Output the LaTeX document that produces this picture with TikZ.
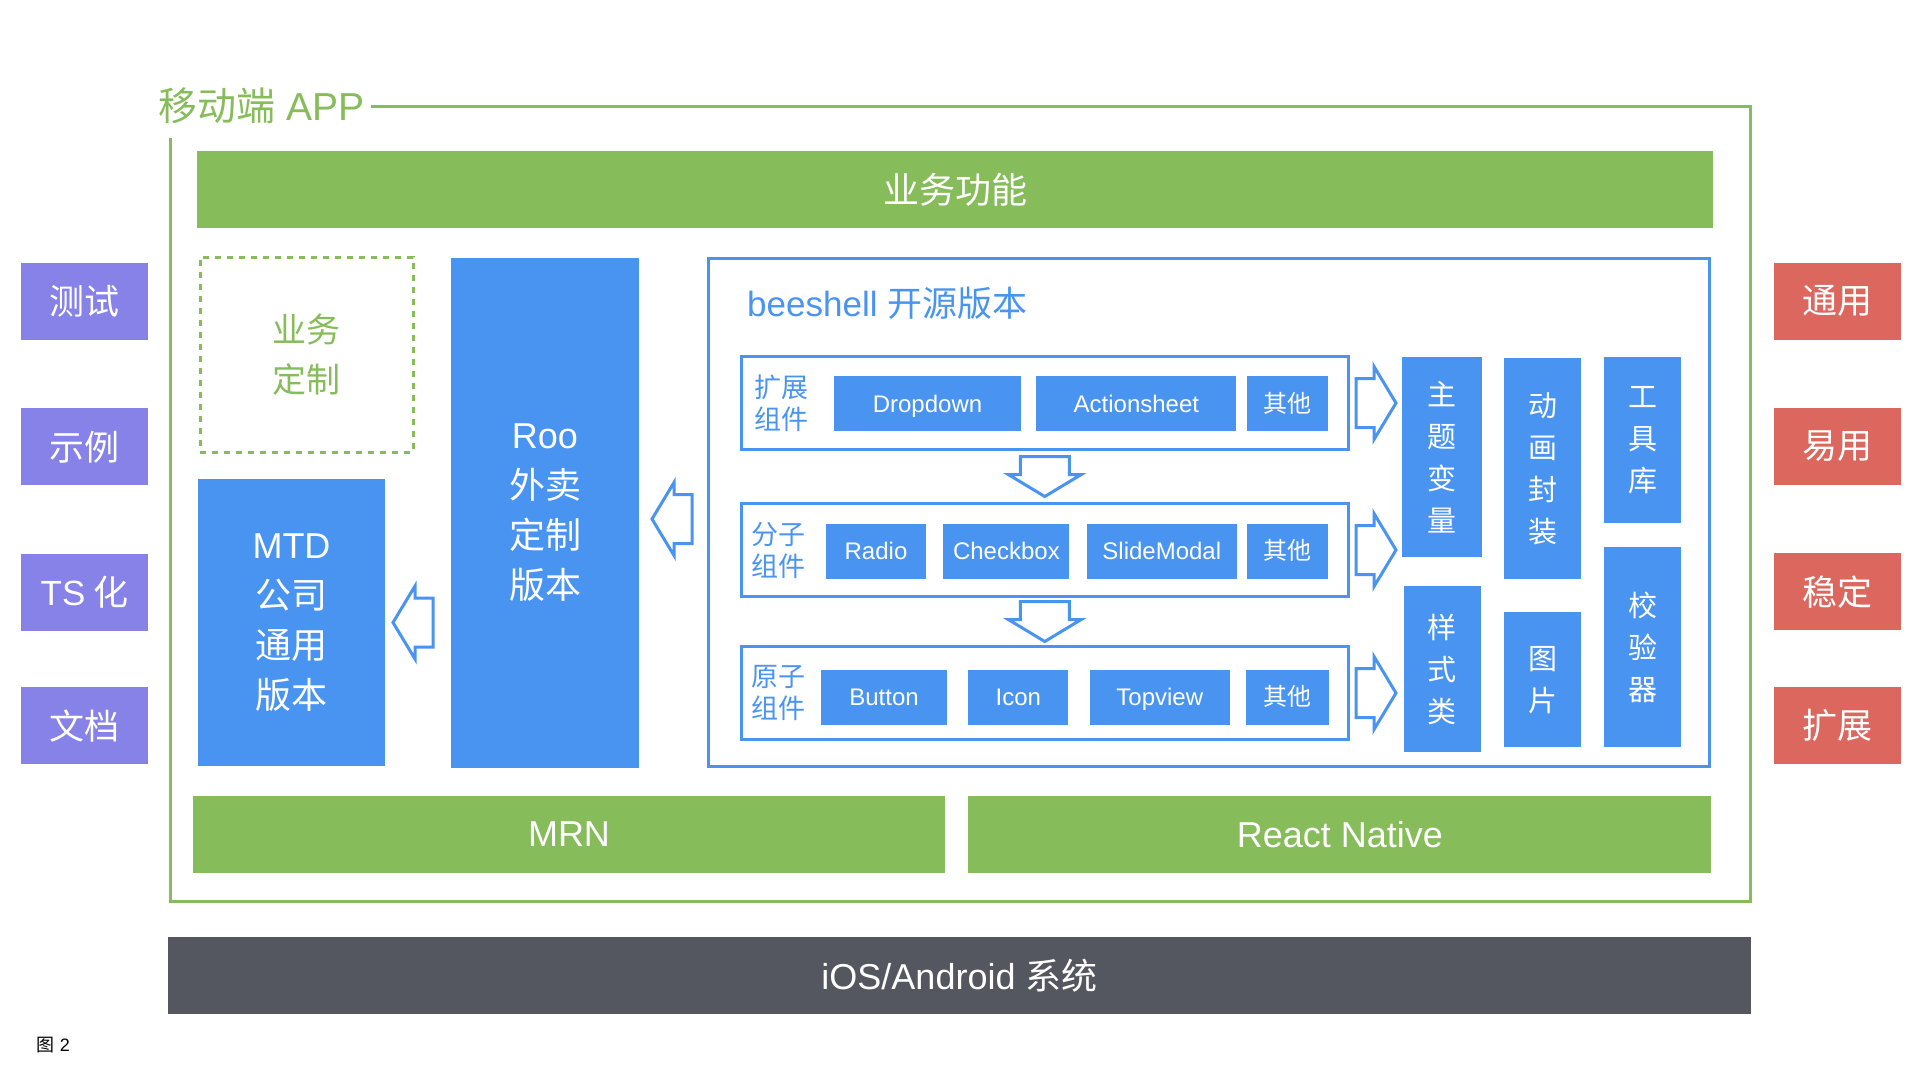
\documentclass[tikz,border=0pt]{standalone}
\usepackage{fontspec}
\setmainfont{Liberation Sans}
\newfontfamily\cjk{Noto Sans CJK SC}
\usepackage{tikz}
\usetikzlibrary{positioning,calc}

\definecolor{appgreen}{HTML}{86BC5A}
\definecolor{appblue}{HTML}{4A94F1}
\definecolor{apppurple}{HTML}{8782E7}
\definecolor{appred}{HTML}{DC675E}
\definecolor{appgray}{HTML}{545760}

\begin{document}
\begin{tikzpicture}[x=1pt, y=-1pt, align=center, inner sep=0pt,
	greenbar/.style={fill=appgreen, text=white, minimum height=77pt, font=\fontsize{36}{44}\selectfont},
	osbar/.style={fill=appgray, text=white, minimum height=77pt, font=\fontsize{36}{44}\selectfont},
	sidebox/.style={text=white, minimum width=127pt, minimum height=77pt, font=\cjk\fontsize{35}{42}\selectfont},
	bluebox/.style={fill=appblue, text=white},
	comp/.style={bluebox, minimum height=55pt, text height=17.2pt, text depth=0pt, font=\fontsize{24}{28}\selectfont},
	column/.style={bluebox, minimum width=77pt, font=\cjk\fontsize{29}{42}\selectfont},
	group/.style={draw=appblue, line width=3pt, outer sep=0pt, minimum width=606.5pt, minimum height=93pt},
	rowlabel/.style={text=appblue, font=\cjk\fontsize{27}{32}\selectfont},
	hollow/.style={draw=appblue, line width=3pt, fill=white, line join=miter},
	blockarrow/.pic={\draw[hollow] (-20,-24.5) -- (-2,-24.5) -- (-2,-36.5) -- (20,0) -- (-2,36.5) -- (-2,24.5) -- (-20,24.5) -- cycle;}]
	\useasboundingbox (0,0) rectangle (1920,1080);

	\node[anchor=west, text=appgreen, font=\fontsize{39}{46}\selectfont] (app) at (158,106) {{\cjk 移动端} APP};
	\draw[appgreen, line width=3pt] (371,106.7) -| (1750.7,901.7) -| (170,138);

	\node[greenbar, minimum width=1516pt] (biz) at (955,189.5) {{\cjk 业务功能}};
	\node[draw=appgreen, line width=3pt, dash pattern=on 6pt off 6pt, minimum width=213pt, minimum height=195pt,
		text=appgreen, font=\cjk\fontsize{34}{50}\selectfont] (custom) at (306.5,354.5) {业务\\定制};
	\node[bluebox, minimum width=187pt, minimum height=287pt, font=\fontsize{36}{50}\selectfont] (mtd) at (291.5,622.5)
		{MTD\\{\cjk 公司}\\{\cjk 通用}\\{\cjk 版本}};
	\node[bluebox, minimum width=188pt, minimum height=510pt, font=\fontsize{36}{50}\selectfont] (roo) at (545,513)
		{Roo\\{\cjk 外卖}\\{\cjk 定制}\\{\cjk 版本}};

	\node[draw=appblue, line width=3pt, minimum width=1001pt, minimum height=508pt] (bee) at (1208.5,512.5) {};
	\node[anchor=west, text=appblue, font=\fontsize{35}{42}\selectfont] (beetitle) at (747,303) {beeshell {\cjk 开源版本}};

	\node[group] (ext) at (1044.75,403) {};
	\node[group, below=54pt of ext] (mol) {};
	\node[group, below=50pt of mol] (atom) {};
	\node[rowlabel, right=13pt of ext.west] (extlabel) {扩展\\组件};
	\node[rowlabel, right=10pt of mol.west] (mollabel) {分子\\组件};
	\node[rowlabel, right=10pt of atom.west] (atomlabel) {原子\\组件};

	\node[comp, minimum width=187pt] (dropdown) at (927.5,403.5) {Dropdown};
	\node[comp, minimum width=200pt, right=15pt of dropdown] (actionsheet) {Actionsheet};
	\node[comp, minimum width=81pt, right=10pt of actionsheet] (extother) {{\cjk 其他}};

	\node[comp, minimum width=100pt] (radio) at (876,551) {Radio};
	\node[comp, minimum width=126pt, right=17pt of radio] (checkbox) {Checkbox};
	\node[comp, minimum width=150pt, right=17pt of checkbox] (slidemodal) {SlideModal};
	\node[comp, minimum width=81pt, right=10pt of slidemodal] (molother) {{\cjk 其他}};

	\node[comp, minimum width=126pt] (button) at (884,697) {Button};
	\node[comp, minimum width=100pt, right=21pt of button] (icon) {Icon};
	\node[comp, minimum width=140pt, right=21pt of icon] (topview) {Topview};
	\node[comp, minimum width=83pt, right=16pt of topview] (atomother) {{\cjk 其他}};

	\node[column, minimum width=80pt, minimum height=200pt] (theme) at (1442,457) {主\\题\\变\\量};
	\node[column, minimum height=166pt, below=29pt of theme] (stylecls) {样\\式\\类};
	\node[column, minimum height=221pt] (anim) at (1542.5,468.5) {动\\画\\封\\装};
	\node[column, minimum height=135pt, below=33pt of anim] (image) {图\\片};
	\node[column, minimum height=166pt] (tools) at (1642.5,440) {工\\具\\库};
	\node[column, minimum height=200pt, below=24pt of tools] (validator) {校\\验\\器};

	\pic at ([xshift=28pt]ext.east) {blockarrow};
	\pic at ([xshift=28pt]mol.east) {blockarrow};
	\pic at ([xshift=28pt]atom.east) {blockarrow};
	\pic[rotate=-90] at ($(ext.south)!0.5!(mol.north)$) {blockarrow};
	\pic[rotate=-90] at ($(mol.south)!0.5!(atom.north)$) {blockarrow};
	\pic[rotate=180] at (672,519) {blockarrow};
	\pic[rotate=180] at (413,622.5) {blockarrow};

	\node[greenbar, minimum width=752pt] (mrn) at (569,834.5) {MRN};
	\node[greenbar, minimum width=743pt, right=23pt of mrn] (rn) {React Native};
	\node[osbar, minimum width=1583pt] (os) at (959.5,975.5) {iOS/Android {\cjk 系统}};

	\node[sidebox, fill=apppurple] (test) at (84.5,301.5) {测试};
	\node[sidebox, fill=apppurple, below=68pt of test] (demo) {示例};
	\node[sidebox, fill=apppurple, below=68pt of demo] (ts) {{\rmfamily TS} 化};
	\node[sidebox, fill=apppurple, below=56pt of ts] (doc) {文档};
	\node[sidebox, fill=appred] (general) at (1837,301) {通用};
	\node[sidebox, fill=appred, below=68pt of general] (easy) {易用};
	\node[sidebox, fill=appred, below=68pt of easy] (stable) {稳定};
	\node[sidebox, fill=appred, below=56pt of stable] (extend) {扩展};

	\node[font=\fontsize{18}{22}\selectfont] (fig) at (53.5,1045) {{\cjk 图} 2};
\end{tikzpicture}
\end{document}
